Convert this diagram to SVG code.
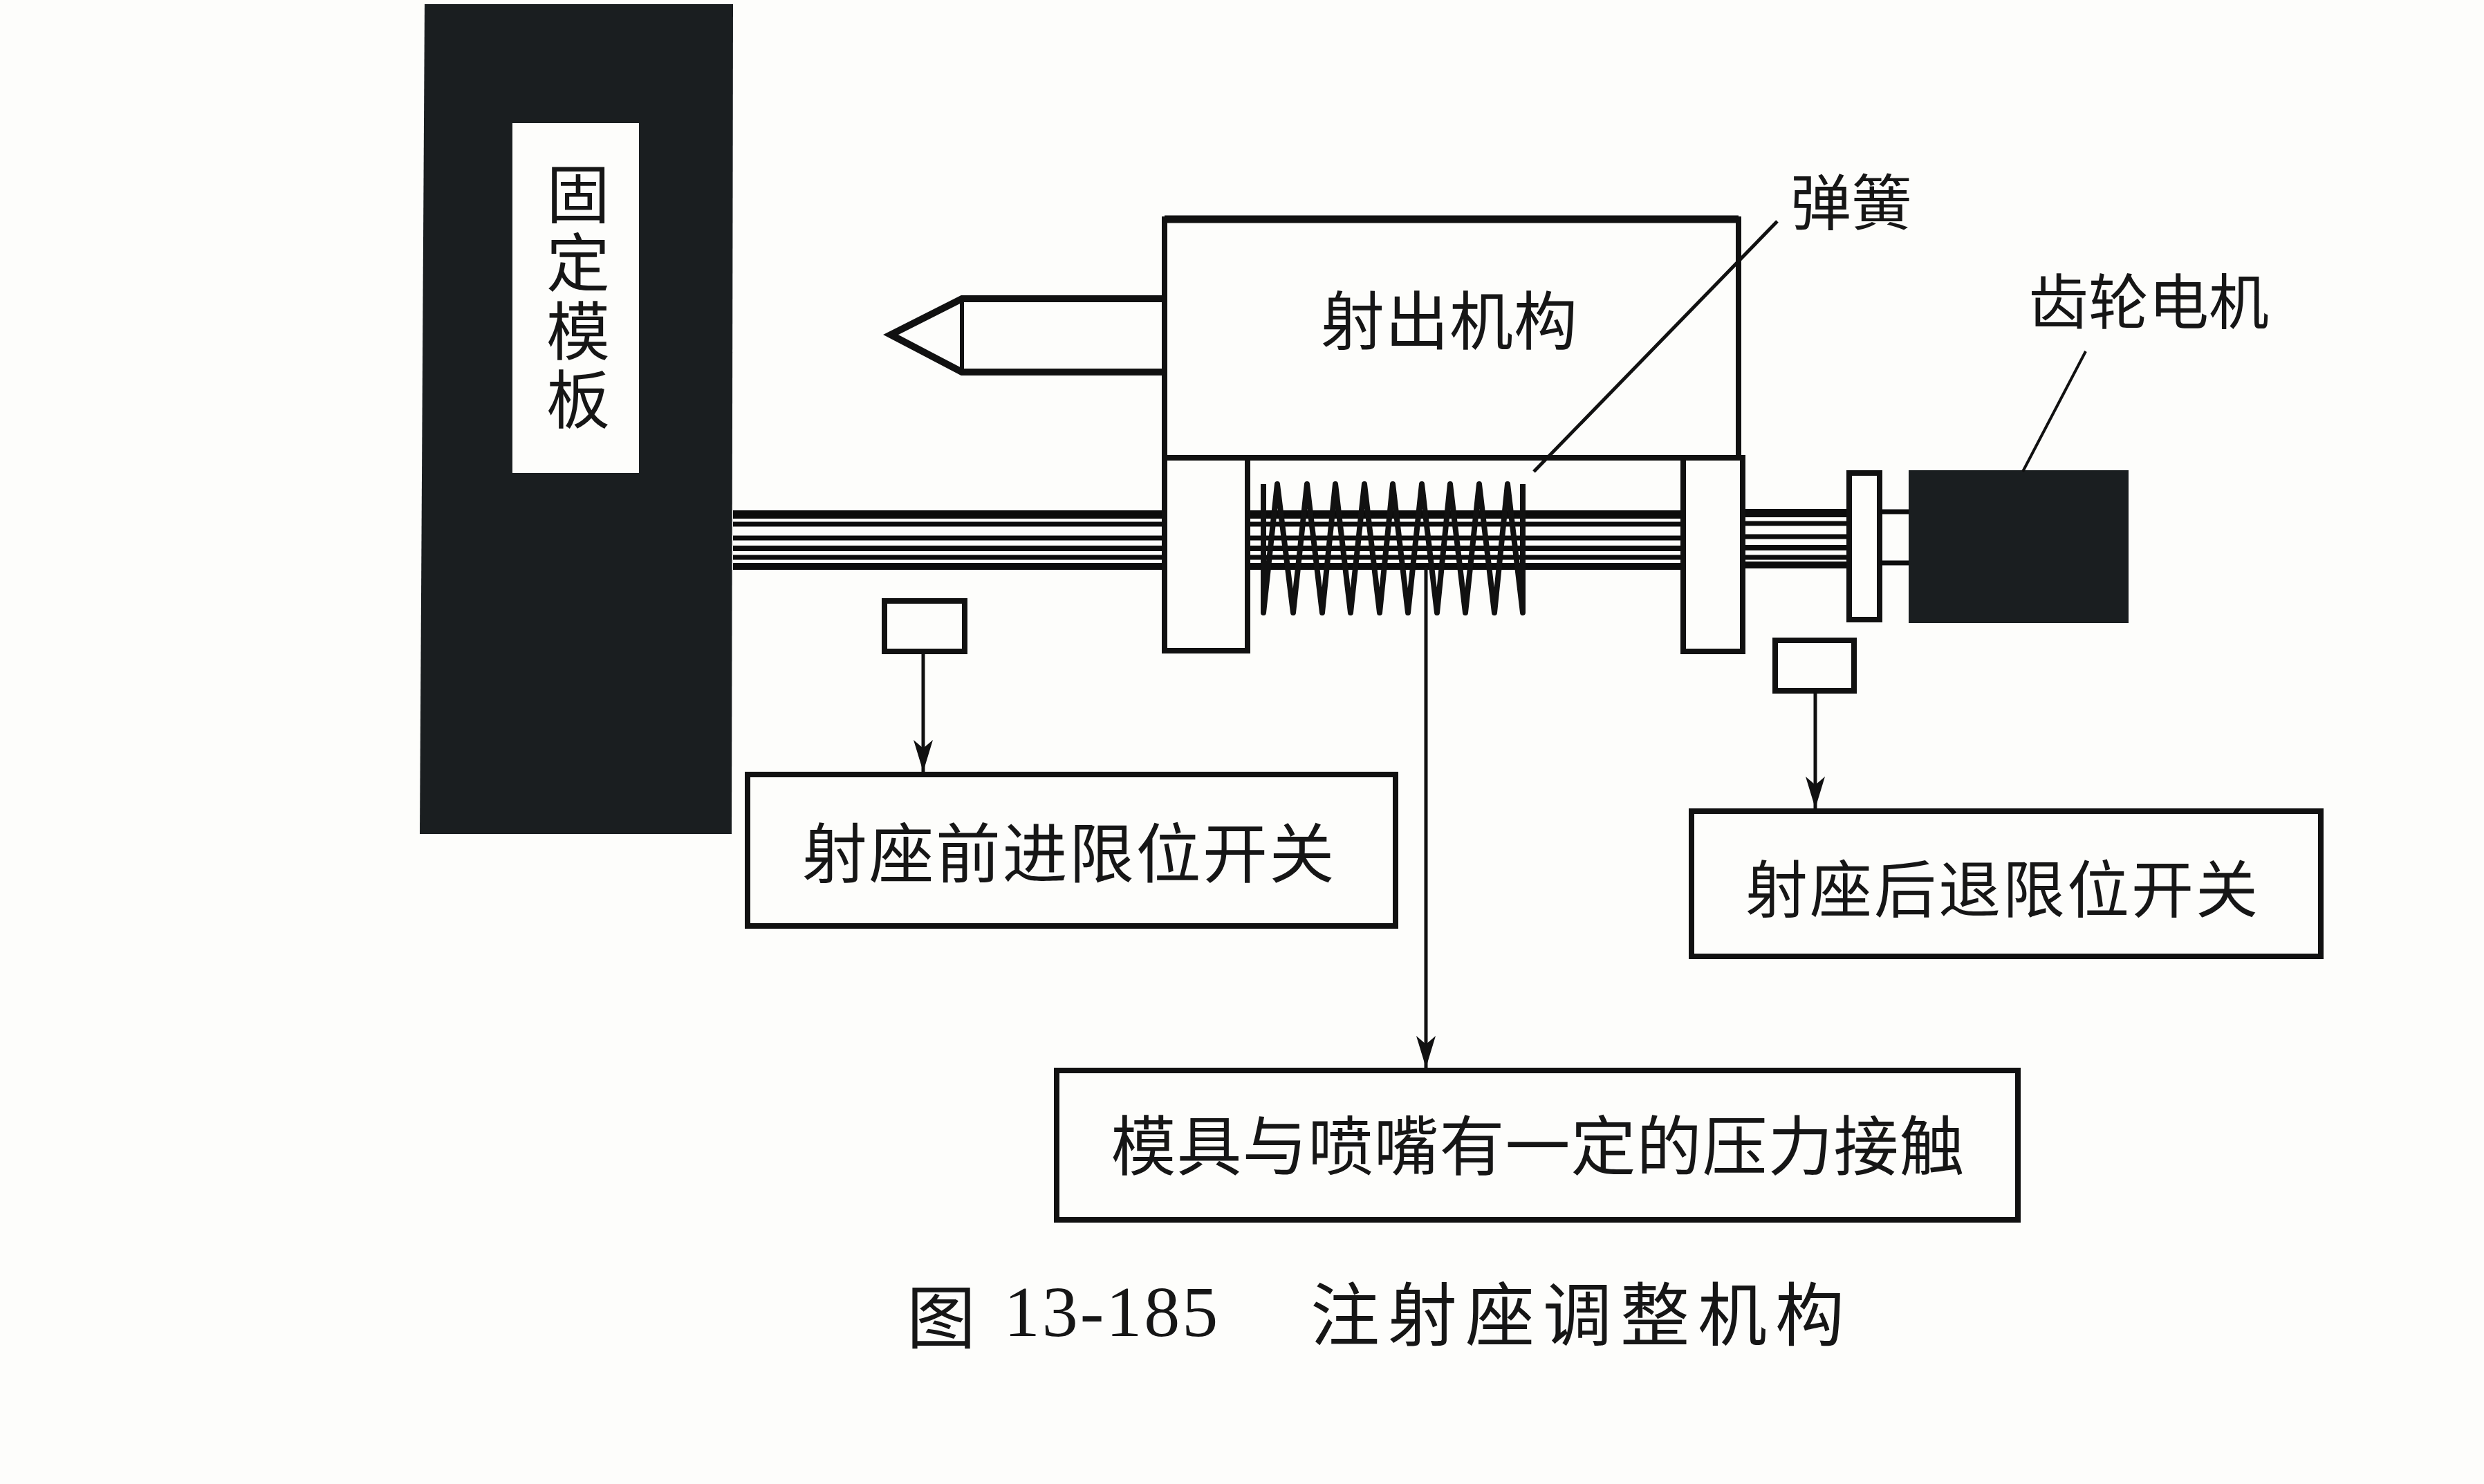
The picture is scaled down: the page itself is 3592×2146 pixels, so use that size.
<svg xmlns="http://www.w3.org/2000/svg" width="3592" height="2146" viewBox="0 0 3592 2146">
<style>
text{font-family:"Noto Sans CJK SC","Noto Sans",sans-serif;fill:#161616;text-anchor:middle}
.box{fill:#fdfdfb;stroke:#111;stroke-width:8}
.solid{fill:#1a1e20}
.rod{stroke:#0c0c0c;fill:none}
.ln{stroke:#111;stroke-width:5;fill:none}
.ld{stroke:#111;stroke-width:5;fill:none;marker-end:url(#arr)}
</style>
<defs><marker id="arr" markerUnits="userSpaceOnUse" markerWidth="48" markerHeight="32" refX="46" refY="16" orient="auto" viewBox="0 0 48 32"><path d="M0 2L46 16L0 30L12 16Z" fill="#111"/></marker></defs>
<rect width="3592" height="2146" fill="#fdfdfb"/>
<g id="rods" class="rod">
<path stroke-width="12" d="M1060 744H2433M2521 742H2672"/>
<path stroke-width="7" d="M1060 758H2433M2521 757H2672"/>
<path stroke-width="7" d="M1060 778H2433M2521 776H2672"/>
<path stroke-width="8" d="M1060 793H2433M2521 792H2672"/>
<path stroke-width="7" d="M1060 806H2433M2521 806H2672"/>
<path stroke-width="10" d="M1060 819H2433M2521 817H2672"/>
</g>
<g id="plate">
<path class="solid" d="M614 6H1060L1058 1206H607Z"/>
<rect x="741" y="178" width="183" height="506" fill="#fdfdfb"/>
<text x="836" y="432" font-size="92" letter-spacing="7" style="writing-mode:vertical-rl">固定模板</text>
</g>
<g id="nozzle"><path class="box" style="stroke-width:10" d="M1684 432H1391L1288 484L1391 538H1684"/><path class="box" d="M1391 432V538" style="stroke-width:6"/></g>
<g id="injection">
<rect class="box" x="1684" y="317" width="830" height="345"/>
<path d="M1684 317H2514" stroke="#111" stroke-width="11"/>
<text x="2096" y="498" font-size="92" letter-spacing="1">射出机构</text>
</g>
<g id="block-left"><rect class="box" x="1684" y="662" width="120" height="279"/></g>
<g id="block-right"><rect class="box" x="2434" y="662" width="86" height="280"/></g>
<g id="spring"><path fill="none" stroke="#111" stroke-width="8" stroke-linejoin="round" d="M1827 700V886L1847 700L1870 886L1890 700L1912 886L1931 700L1953 886L1973 700L1995 886L2014 700L2036 886L2056 700L2078 886L2097 700L2119 886L2139 700L2161 886L2180 700L2202 886V700"/></g>
<g id="coupling"><rect class="box" x="2674" y="684" width="44" height="212"/><path class="rod" stroke-width="7" d="M2719 740H2762M2719 814H2762"/></g>
<g id="motor"><rect class="solid" x="2760" y="680" width="318" height="221"/><text x="3107" y="469" font-size="87">齿轮电机</text></g>
<g id="spring-label"><text x="2677" y="325" font-size="88">弹簧</text></g>
<g id="switch-left"><rect class="box" x="1279" y="869" width="116" height="73"/></g>
<g id="switch-right"><rect class="box" x="2567" y="926" width="114" height="73"/></g>
<g id="limit-front"><rect class="box" x="1081" y="1120" width="937" height="219"/><text x="1546" y="1269" font-size="94" letter-spacing="2.5">射座前进限位开关</text></g>
<g id="limit-back"><rect class="box" x="2446" y="1173" width="910" height="210"/><text x="2896" y="1319" font-size="90" letter-spacing="3">射座后退限位开关</text></g>
<g id="contact"><rect class="box" x="1528" y="1548" width="1390" height="216"/><text x="2224" y="1692" font-size="94" letter-spacing="1">模具与喷嘴有一定的压力接触</text></g>
<g id="connectors">
<path class="ld" d="M1335 942V1116"/>
<path class="ld" d="M2625 1000V1169"/>
<path class="ld" d="M2062 820V1544"/>
<path class="ln" d="M2570 320L2218 682"/>
<path class="ln" style="stroke-width:4" d="M3016 508L2925 682"/>
</g>
<g id="caption">
<text x="1361" y="1942" font-size="100">图</text>
<text x="1608" y="1932" font-size="104" style="font-family:'Liberation Serif',serif" letter-spacing="3">13-185</text>
<text x="2287" y="1938" font-size="100" letter-spacing="12">注射座调整机构</text>
</g>
</svg>
